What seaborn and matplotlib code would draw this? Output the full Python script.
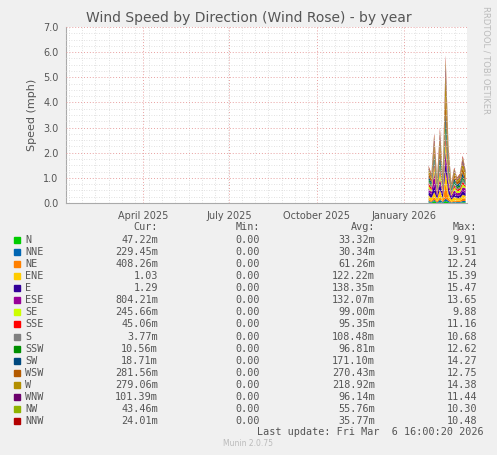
import matplotlib
matplotlib.use("Agg")
import matplotlib.pyplot as plt
import matplotlib.dates as mdates
import seaborn as sns
import numpy as np
import pandas as pd

sns.set_style("white")
plt.rcParams['font.family'] = ['DejaVu Sans']

title = "Wind Speed by Direction (Wind Rose) - by year"
names = ["N","NNE","NE","ENE","E","ESE","SE","SSE","S","SSW","SW","WSW","W","WNW","NW","NNW"]
colors = ["#00CC00","#0066B3","#FF8000","#FFCC00","#330099","#990099","#CCFF00","#FF0000",
          "#808080","#008F00","#00487D","#B35A00","#B38F00","#6B006B","#8FB300","#B30000"]
cur = ["47.22m","229.45m","408.26m","1.03","1.29","804.21m","245.66m","45.06m","3.77m",
       "10.56m","18.71m","281.56m","279.06m","101.39m","43.46m","24.01m"]
mins = ["0.00"]*16
avg = ["33.32m","30.34m","61.26m","122.22m","138.35m","132.07m","99.00m","95.35m","108.48m",
       "96.81m","171.10m","270.43m","218.92m","96.14m","55.76m","35.77m"]
mx = ["9.91","13.51","12.24","15.39","15.47","13.65","9.88","11.16","10.68","12.62",
      "14.27","12.75","14.38","11.44","10.30","10.48"]

dates = pd.to_datetime(["2026-01-26","2026-01-29","2026-02-01","2026-02-04","2026-02-07",
                        "2026-02-10","2026-02-13","2026-02-16","2026-02-19","2026-02-22",
                        "2026-02-25","2026-02-28","2026-03-03","2026-03-06"])
N   = [.05,.03,.10,.02,.05,.03,.10,.05,.02,.04,.03,.03,.05,.05]
NNE = [.05,.03,.05,.02,.10,.03,.10,.05,.02,.03,.03,.03,.05,.05]
NE  = [.08,.05,.10,.05,.10,.05,.60,.10,.03,.05,.05,.05,.10,.10]
ENE = [.15,.10,.20,.10,.30,.10,.50,.20,.08,.15,.10,.10,.15,.10]
E   = [.15,.15,.30,.10,.25,.15,.40,.25,.08,.15,.10,.12,.15,.10]
ESE = [.12,.10,.50,.08,.20,.10,.40,.20,.08,.12,.10,.10,.15,.20]
SE  = [.10,.08,.20,.06,.25,.08,.30,.15,.06,.10,.08,.08,.12,.05]
SSE = [.10,.08,.15,.06,.15,.08,.25,.12,.05,.08,.06,.08,.10,.05]
S   = [.10,.08,.12,.06,.15,.06,.25,.12,.05,.08,.06,.07,.10,.05]
SSW = [.08,.06,.10,.05,.15,.06,.30,.10,.04,.08,.06,.07,.10,.03]
SW  = [.10,.08,.15,.08,.25,.08,.40,.15,.06,.12,.08,.10,.15,.03]
WSW = [.15,.12,.25,.10,.35,.12,.70,.30,.07,.15,.10,.12,.20,.20]
W   = [.12,.10,.25,.10,.30,.12,.90,.25,.06,.12,.08,.10,.20,.20]
WNW = [.05,.05,.15,.05,.15,.05,.30,.12,.04,.06,.04,.05,.12,.05]
NW  = [.05,.04,.08,.03,.10,.04,.20,.08,.03,.05,.03,.04,.08,.04]
NNW = [.05,.04,.10,.04,.15,.05,.20,.06,.03,.05,.03,.04,.08,.02]
series = [N,NNE,NE,ENE,E,ESE,SE,SSE,S,SSW,SW,WSW,W,WNW,NW,NNW]

fig = plt.figure(figsize=(4.97,4.55), dpi=100, facecolor="#F0F0F0")
ax = fig.add_axes([66/497, 1-203/455, 401/497, 176/455])
ax.set_facecolor("white")
ax.stackplot(dates, *series, colors=colors, linewidth=0)

ax.set_xlim(pd.Timestamp("2025-01-10"), pd.Timestamp("2026-03-08"))
ax.set_ylim(0, 7)
ax.set_yticks(np.arange(0, 7.01, 1.0))
ax.set_yticklabels([f"{v:.1f}" for v in np.arange(0, 7.01, 1.0)])
ax.set_yticks(np.arange(0, 7.01, 0.25), minor=True)
ax.xaxis.set_major_locator(mdates.MonthLocator(bymonth=[1,4,7,10]))
ax.xaxis.set_major_formatter(mdates.DateFormatter("%B %Y"))
ax.xaxis.set_minor_locator(mdates.WeekdayLocator(byweekday=0, interval=2))
ax.grid(which="minor", color="#D8D8D8", linestyle=(0,(1,2)), linewidth=0.6)
ax.grid(which="major", color="#E8A0A0", linestyle=(0,(1,2)), linewidth=0.7)
ax.set_axisbelow(False)
for sp in ["top","right"]:
    ax.spines[sp].set_visible(False)
for sp in ["left","bottom"]:
    ax.spines[sp].set_color("#AAAAAA")
ax.tick_params(labelsize=7, colors="#555555", length=2)
ax.set_ylabel("Speed (mph)", fontsize=8, color="#555555")

fig.text(0.5, 1-18/455, title, ha="center", va="center", fontsize=10, color="#555555")
fig.text(486/497, 1-60/455, "RRDTOOL / TOBI OETIKER", rotation=270, ha="center", va="center",
         fontsize=6, color="#BBBBBB")

mono = dict(family="DejaVu Sans Mono", fontsize=7.3, color="#555555", va="center")
def fy(y): return 1 - y/455
for x, h in [(158,"Cur:"),(260,"Min:"),(375,"Avg:"),(477,"Max:")]:
    fig.text(x/497, fy(227), h, ha="right", **mono)
for i in range(16):
    y = 240 + i*12.07
    fig.patches.append(plt.Rectangle((14/497, fy(y)-3/455), 6/497, 6/455,
                                     transform=fig.transFigure, color=colors[i]))
    fig.text(25/497, fy(y), names[i], ha="left", **mono)
    fig.text(158/497, fy(y), cur[i], ha="right", **mono)
    fig.text(260/497, fy(y), mins[i], ha="right", **mono)
    fig.text(375/497, fy(y), avg[i], ha="right", **mono)
    fig.text(477/497, fy(y), mx[i], ha="right", **mono)
fig.text(484/497, fy(432), "Last update: Fri Mar  6 16:00:20 2026", ha="right", **mono)
fig.text(248/497, fy(444), "Munin 2.0.75", ha="center", va="center", fontsize=5.5, color="#BBBBBB")

fig.savefig("out.png", dpi=100, facecolor=fig.get_facecolor())
